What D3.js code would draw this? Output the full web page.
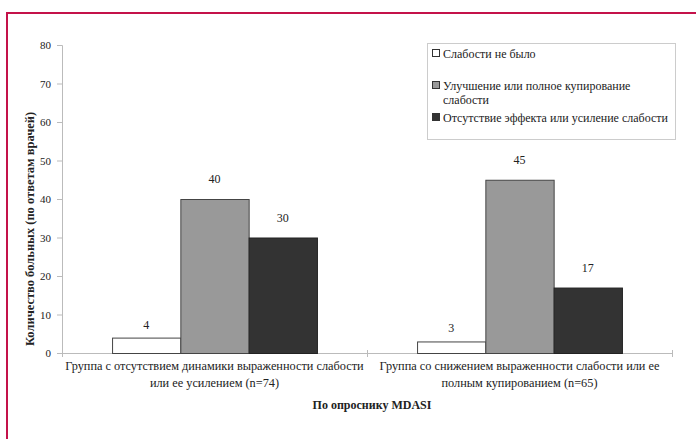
<!DOCTYPE html>
<html>
<head>
<meta charset="utf-8">
<script src="https://cdn.jsdelivr.net/npm/d3@7"></script>
<style>
  html, body { margin: 0; padding: 0; background: #fff; }
  svg { display: block; }
  svg text { font-family: "Times New Roman", "Liberation Serif", Tinos, "DejaVu Serif", "Noto Serif", serif; fill: #222; }
</style>
</head>
<body>
<svg id="chart" width="696" height="439"></svg>
<script>
// Groups of patients (two-line labels)
const categories = [
  ["Группа с отсутствием динамики выраженности слабости", "или ее усилением (n=74)"],
  ["Группа со снижением выраженности слабости  или ее", "полным  купированием (n=65)"]
];
const seriesNames = [
  "Слабости  не было",
  "Улучшение или полное купирование слабости",
  "Отсутствие эффекта или усиление слабости"
];
const noWeakness = [4, 3];
const improved = [40, 45];
const noEffect = [30, 17];
const yTicks = [0, 10, 20, 30, 40, 50, 60, 70, 80];

const seriesValues = [noWeakness, improved, noEffect];
const fills = ["#ffffff", "#999999", "#333333"];
const strokes = ["#444444", "#444444", "#222222"];

const svg = d3.select("#chart");

// Outer frame (top and left rules)
svg.append("line").attr("x1", 6).attr("x2", 696).attr("y1", 13).attr("y2", 13)
  .attr("stroke", "#c4124a").attr("stroke-width", 2);
svg.append("line").attr("x1", 7).attr("x2", 7).attr("y1", 12).attr("y2", 439)
  .attr("stroke", "#c4124a").attr("stroke-width", 2);

const plot = { left: 62, right: 672, top: 45, bottom: 353 };

const y = d3.scaleLinear().domain([0, 80]).range([plot.bottom, plot.top]);
const x0 = d3.scaleBand().domain(d3.range(categories.length))
  .range([plot.left, plot.right]).padding(0);
const x1 = d3.scaleBand().domain(d3.range(seriesNames.length))
  .range([0, x0.bandwidth()]).paddingInner(0).paddingOuter(0.733);

// Y axis
const yAxis = d3.axisLeft(y).tickValues(yTicks).tickSize(5).tickPadding(6);
const gy = svg.append("g").attr("transform", `translate(${plot.left},0)`).call(yAxis)
  .attr("font-family", null);
gy.select(".domain").attr("stroke", "#bbbbbb");
gy.selectAll(".tick line").attr("stroke", "#bbbbbb");
gy.selectAll(".tick text").style("font-size", "11px").attr("fill", "#222");

// X axis line with tick marks at category boundaries
const xTickPos = d3.range(categories.length + 1).map(i =>
  i < categories.length ? x0(i) : x0(categories.length - 1) + x0.bandwidth());
svg.append("line").attr("x1", plot.left).attr("x2", plot.right)
  .attr("y1", plot.bottom + 0.5).attr("y2", plot.bottom + 0.5).attr("stroke", "#bbbbbb");
svg.selectAll(".xtick").data(xTickPos).enter().append("line")
  .attr("x1", d => d + 0.5).attr("x2", d => d + 0.5)
  .attr("y1", plot.bottom - 3).attr("y2", plot.bottom + 4).attr("stroke", "#bbbbbb");

// Bars with value labels
const groups = svg.selectAll(".grp").data(categories).enter().append("g")
  .attr("transform", (d, i) => `translate(${x0(i)},0)`);

groups.each(function(_, ci) {
  const g = d3.select(this);
  seriesValues.forEach((vals, si) => {
    const v = vals[ci];
    g.append("rect")
      .attr("x", x1(si) + 0.5)
      .attr("y", y(v) + 0.5)
      .attr("width", x1.bandwidth())
      .attr("height", y(0) - y(v))
      .attr("fill", fills[si])
      .attr("stroke", strokes[si])
      .attr("stroke-width", 1);
    g.append("text")
      .attr("x", x1(si) + x1.bandwidth() / 2)
      .attr("y", y(v) - (v < 10 ? 9 : 16))
      .attr("text-anchor", "middle")
      .style("font-size", "12px")
      .text(v);
  });
});

// Category labels
categories.forEach((lines, ci) => {
  const cx = x0(ci) + x0.bandwidth() / 2;
  lines.forEach((ln, li) => {
    svg.append("text").attr("x", cx).attr("y", 370 + li * 17)
      .attr("text-anchor", "middle").style("font-size", "12.3px").text(ln);
  });
});

// Axis titles
svg.append("text").attr("x", 372).attr("y", 409).attr("text-anchor", "middle")
  .style("font-size", "12px").style("font-weight", "bold").text("По опроснику MDASI");
svg.append("text")
  .attr("transform", "translate(34,229) rotate(-90)")
  .attr("text-anchor", "middle")
  .style("font-size", "12.5px").style("font-weight", "bold")
  .text("Количество больных (по ответам врачей)");

// Legend
const legend = svg.append("g");
legend.append("rect").attr("x", 427.5).attr("y", 43.5).attr("width", 248).attr("height", 96)
  .attr("fill", "#fff").attr("stroke", "#cccccc");
const legendRows = [
  { lines: [seriesNames[0]], y: 54 },
  { lines: ["Улучшение или полное купирование", "слабости"], y: 86 },
  { lines: [seriesNames[2]], y: 118 }
];
legendRows.forEach((row, i) => {
  legend.append("rect").attr("x", 432.5).attr("y", row.y - 4.5).attr("width", 7).attr("height", 7)
    .attr("fill", fills[i]).attr("stroke", "#333").attr("stroke-width", 1);
  row.lines.forEach((ln, li) => {
    legend.append("text").attr("x", 443).attr("y", row.y + 4 + li * 14)
      .style("font-size", "12px").text(ln);
  });
});
</script>
</body>
</html>
